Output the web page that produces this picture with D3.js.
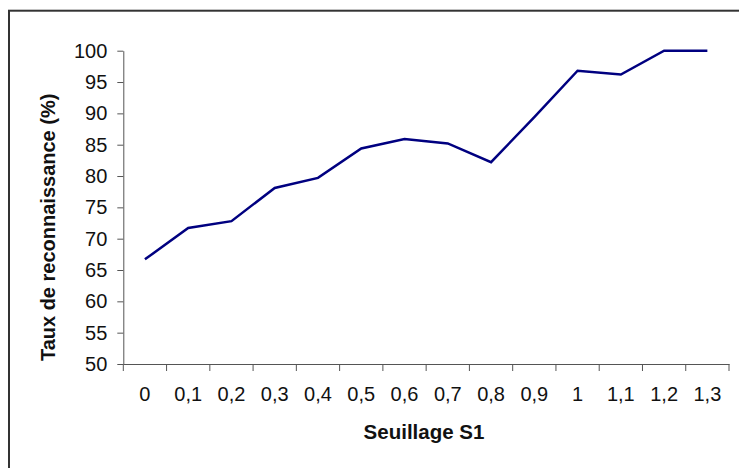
<!DOCTYPE html>
<html>
<head>
<meta charset="utf-8">
<script src="https://cdn.jsdelivr.net/npm/d3@7"></script>
<style>
  html, body { margin: 0; padding: 0; background: #fff; }
  svg { display: block; font-family: Arial, "Liberation Sans", sans-serif; }
</style>
</head>
<body>
<svg id="chart" width="739" height="468"></svg>
<script>
// Seuillage S1 thresholds (category labels on the x axis)
const seuils = ["0", "0,1", "0,2", "0,3", "0,4", "0,5", "0,6", "0,7", "0,8", "0,9", "1", "1,1", "1,2", "1,3"];
// Taux de reconnaissance (%) for each threshold
const taux = [66.7, 71.7, 72.8, 78.1, 79.7, 84.4, 85.9, 85.2, 82.2, 89.4, 96.8, 96.2, 100, 100];
// Y axis tick values
const yTicks = [50, 55, 60, 65, 70, 75, 80, 85, 90, 95, 100];

const svg = d3.select("#chart");
const W = 739, H = 468;
const plot = { left: 123.3, right: 729, top: 50.7, bottom: 364 };

// Outer chart frame (runs past the right and bottom edges)
svg.append("rect")
  .attr("x", 9).attr("y", 10.7)
  .attr("width", W + 20).attr("height", H + 20)
  .attr("fill", "#fff")
  .attr("stroke", "#333").attr("stroke-width", 2);

const x = d3.scaleBand().domain(seuils).range([plot.left, plot.right]).padding(0);
const y = d3.scaleLinear().domain([50, 100]).range([plot.bottom, plot.top]);

// Y axis
const yAxis = svg.append("g")
  .attr("transform", `translate(${plot.left},0)`)
  .call(d3.axisLeft(y).tickValues(yTicks).tickSize(6).tickPadding(10).tickSizeOuter(0));
yAxis.select(".domain").attr("stroke", "#555");
yAxis.selectAll(".tick line").attr("stroke", "#555");
yAxis.selectAll(".tick text")
  .attr("font-size", 20).attr("fill", "#111")
  .attr("font-family", "Arial, 'Liberation Sans', sans-serif");

// X axis: labels centred in each category, ticks on category edges
const xAxis = svg.append("g")
  .attr("transform", `translate(0,${plot.bottom})`)
  .call(d3.axisBottom(x).tickSize(0).tickPadding(23).tickSizeOuter(0));
xAxis.select(".domain").attr("stroke", "#555");
xAxis.selectAll(".tick text")
  .attr("font-size", 20).attr("fill", "#111")
  .attr("font-family", "Arial, 'Liberation Sans', sans-serif");

const edges = seuils.map(s => x(s)).concat([x(seuils[seuils.length - 1]) + x.bandwidth()]);
svg.append("g").selectAll("line")
  .data(edges)
  .join("line")
  .attr("x1", d => d).attr("x2", d => d)
  .attr("y1", plot.bottom).attr("y2", plot.bottom + 7)
  .attr("stroke", "#555");

// Recognition rate line
const line = d3.line()
  .x((d, i) => x(seuils[i]) + x.bandwidth() / 2)
  .y(d => y(d));
svg.append("path")
  .datum(taux)
  .attr("d", line)
  .attr("fill", "none")
  .attr("stroke", "#000080")
  .attr("stroke-width", 2.5)
  .attr("stroke-linejoin", "miter");

// Axis titles
svg.append("text")
  .attr("x", 424)
  .attr("y", 439)
  .attr("text-anchor", "middle")
  .attr("font-size", 20.5).attr("font-weight", "bold").attr("fill", "#111")
  .text("Seuillage S1");

svg.append("text")
  .attr("transform", `translate(55,${(plot.top + plot.bottom) / 2 + 20}) rotate(-90)`)
  .attr("text-anchor", "middle")
  .attr("font-size", 20).attr("font-weight", "bold").attr("fill", "#111")
  .text("Taux de reconnaissance (%)");
</script>
</body>
</html>
